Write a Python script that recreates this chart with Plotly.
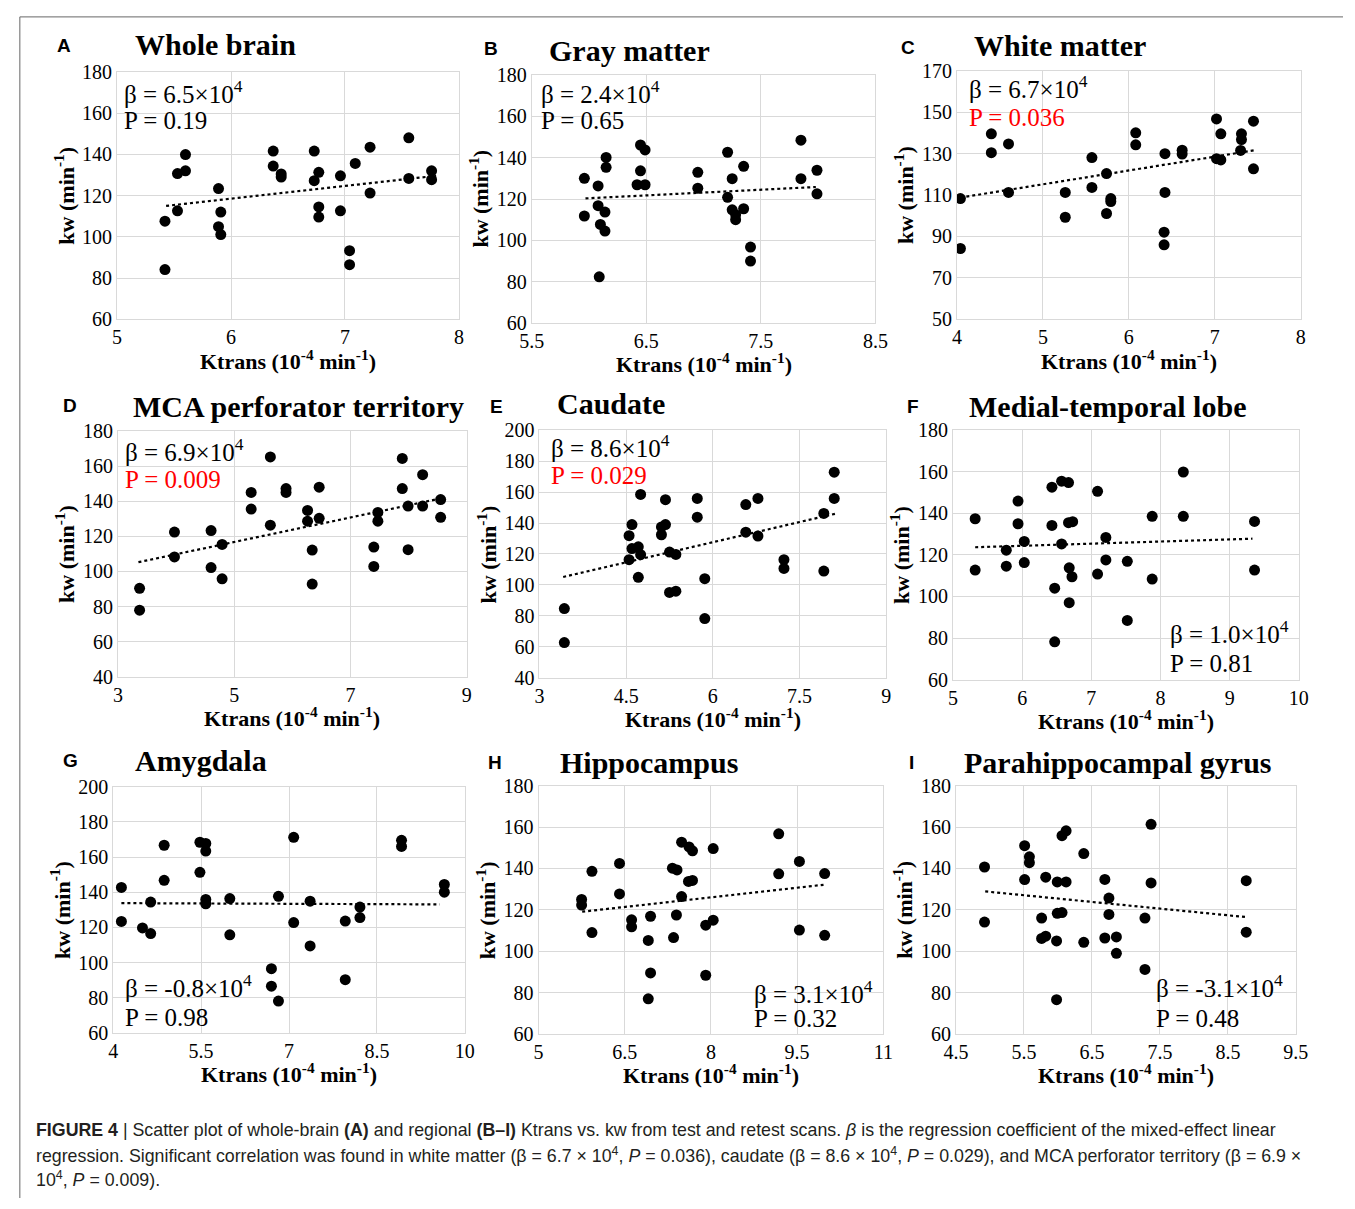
import plotly.graph_objects as go

W, H = 1355, 1209

# ---------------- data ----------------
# A Whole brain
a_ktrans = [5.42, 5.42, 5.53, 5.53, 5.60, 5.60, 5.89, 5.91, 5.89, 5.91, 6.37, 6.37, 6.44, 6.44, 6.73,
            6.73, 6.77, 6.77, 6.77, 6.96, 6.96, 7.04, 7.04, 7.09, 7.22, 7.22, 7.56, 7.56, 7.76, 7.76]
a_kw = [107.6, 84.1, 130.7, 112.6, 139.9, 132.0, 123.4, 112.0, 104.9, 101.1, 141.6, 134.3, 130.5, 129.0, 141.6,
        127.2, 131.3, 114.5, 109.6, 129.6, 112.6, 93.3, 86.5, 135.6, 143.5, 121.2, 148.0, 128.3, 132.0, 127.7]
a_trend_x = [5.43, 7.80]
a_trend_y = [115.0, 129.6]

# B Gray matter
b_ktrans = [5.96, 5.96, 6.08, 6.08, 6.10, 6.14, 6.14, 6.09, 6.15, 6.15, 6.45, 6.49, 6.45, 6.42, 6.49, 6.95,
            6.95, 7.21, 7.21, 7.25, 7.25, 7.28, 7.28, 7.35, 7.35, 7.41, 7.41, 7.85, 7.85, 7.99, 7.99]
b_kw = [130.0, 111.8, 126.3, 116.8, 107.7, 113.7, 104.5, 82.4, 140.1, 135.3, 146.1, 143.7, 133.6, 126.9, 126.9,
        132.9, 125.2, 142.6, 120.8, 129.8, 114.8, 112.4, 110.0, 135.8, 115.3, 96.8, 90.0, 148.4, 129.8, 133.9, 122.5]
b_trend_x = [5.97, 7.98]
b_trend_y = [120.3, 125.8]

# C White matter
c_ktrans = [4.04, 4.04, 4.40, 4.40, 4.60, 4.60, 5.26, 5.26, 5.57, 5.57, 5.74, 5.79, 5.79, 5.74, 6.08, 6.08,
            6.42, 6.42, 6.41, 6.41, 6.62, 6.62, 7.02, 7.07, 7.02, 7.07, 7.31, 7.31, 7.30, 7.45, 7.45]
c_kw = [108.3, 84.2, 139.6, 130.5, 134.7, 111.3, 111.3, 99.3, 128.1, 113.7, 120.4, 108.3, 106.9, 101.1, 140.1,
        134.3, 130.0, 111.3, 92.1, 86.0, 131.7, 129.8, 146.8, 139.6, 127.6, 127.0, 139.6, 136.8, 131.6, 145.7, 122.7]
c_trend_x = [4.04, 7.47]
c_trend_y = [108.8, 131.7]

# D MCA perforator territory
d_ktrans = [3.37, 3.37, 3.97, 3.97, 4.60, 4.60, 4.79, 4.79, 5.29, 5.29, 5.62, 5.62, 5.89, 5.89, 6.26, 6.26,
            6.34, 6.34, 6.46, 6.46, 7.40, 7.40, 7.47, 7.47, 7.89, 7.89, 7.99, 7.99, 8.24, 8.24, 8.55, 8.55]
d_kw = [90.4, 77.9, 122.5, 108.3, 123.3, 102.2, 115.4, 95.8, 145.1, 135.6, 165.3, 126.4, 147.3, 145.1, 134.8,
        128.7, 112.2, 92.8, 148.1, 130.3, 113.9, 102.9, 133.7, 128.7, 164.5, 147.3, 137.3, 112.4, 155.2, 137.3,
        141.0, 130.9]
d_trend_x = [3.35, 8.56]
d_trend_y = [105.3, 141.7]

# E Caudate
e_ktrans = [3.43, 3.43, 4.55, 4.55, 4.60, 4.60, 4.71, 4.75, 4.71, 4.75, 5.11, 5.11, 5.18, 5.18, 5.25, 5.36,
            5.25, 5.36, 5.73, 5.73, 5.86, 5.86, 6.57, 6.57, 6.78, 6.78, 7.23, 7.23, 7.92, 7.92, 8.10, 8.10]
e_kw = [84.7, 62.7, 131.8, 116.3, 139.0, 123.5, 124.6, 119.5, 104.9, 158.5, 137.5, 132.4, 139.0, 155.1, 121.2,
        119.7, 95.1, 95.9, 155.9, 143.8, 104.0, 78.2, 151.9, 134.1, 155.9, 131.6, 116.3, 110.6, 146.2, 108.9,
        172.9, 155.9]
e_trend_x = [3.41, 8.12]
e_trend_y = [105.1, 146.0]

# F Medial-temporal lobe
f_ktrans = [5.32, 5.32, 5.77, 5.77, 5.94, 5.94, 6.03, 6.03, 6.43, 6.43, 6.47, 6.47, 6.57, 6.67, 6.57, 6.67,
            6.73, 6.68, 6.72, 6.68, 7.09, 7.09, 7.21, 7.21, 7.52, 7.52, 7.88, 7.88, 8.33, 8.33, 9.36, 9.36]
f_kw = [137.4, 112.7, 122.3, 114.6, 145.9, 135.0, 126.5, 116.3, 152.6, 134.2, 104.0, 78.2, 155.5, 154.8, 125.3,
        135.5, 136.0, 113.8, 109.5, 97.0, 150.6, 110.8, 128.4, 117.6, 116.9, 88.5, 138.6, 108.4, 159.9, 138.6,
        136.1, 112.7]
f_trend_x = [5.32, 9.33]
f_trend_y = [123.7, 127.8]

# G Amygdala
g_ktrans = [4.14, 4.14, 4.50, 4.64, 4.64, 4.87, 4.87, 5.48, 5.58, 5.58, 5.48, 5.58, 5.58, 5.99, 5.99, 6.70,
            6.70, 6.82, 6.82, 7.08, 7.08, 7.36, 7.36, 7.96, 7.96, 8.21, 8.21, 8.92, 8.92, 9.65, 9.65]
g_kw = [142.7, 123.4, 119.7, 116.5, 134.4, 166.7, 146.8, 168.4, 167.7, 163.4, 151.3, 135.9, 133.4, 136.4, 115.8,
        96.6, 86.6, 137.7, 78.2, 171.2, 122.8, 134.9, 109.5, 123.6, 90.3, 131.6, 125.6, 169.5, 166.0, 144.4, 140.0]
g_trend_x = [4.14, 9.57]
g_trend_y = [133.8, 133.1]

# H Hippocampus
h_ktrans = [5.75, 5.75, 5.93, 5.93, 6.41, 6.41, 6.62, 6.62, 6.91, 6.91, 6.95, 6.95, 7.33, 7.41, 7.40, 7.35,
            7.49, 7.62, 7.68, 7.49, 7.61, 7.68, 8.04, 8.04, 7.91, 7.91, 9.18, 9.18, 9.54, 9.54, 9.98, 9.98]
h_kw = [125.0, 122.3, 138.6, 109.0, 142.4, 127.7, 115.2, 111.8, 105.2, 77.0, 116.9, 89.5, 140.1, 139.3, 117.5,
        106.6, 152.7, 150.4, 148.5, 126.4, 133.7, 134.2, 149.6, 115.0, 112.6, 88.4, 156.7, 137.4, 143.4, 110.2,
        137.5, 107.7]
h_trend_x = [5.76, 9.96]
h_trend_y = [119.1, 132.1]

# I Parahippocampal gyrus
i_ktrans = [4.92, 4.92, 5.51, 5.51, 5.58, 5.58, 5.82, 5.76, 5.76, 5.82, 5.99, 6.12, 6.06, 6.12, 5.99, 6.06,
            5.98, 5.98, 6.38, 6.38, 6.69, 6.69, 6.75, 6.75, 6.86, 6.86, 7.28, 7.28, 7.37, 7.37, 8.77, 8.77]
i_kw = [140.7, 114.1, 151.0, 134.6, 145.6, 142.8, 135.8, 116.0, 106.2, 107.3, 133.5, 133.5, 155.8, 158.2, 118.3,
        118.7, 105.0, 76.6, 147.2, 104.3, 134.7, 106.4, 125.7, 117.8, 106.9, 99.0, 116.0, 91.2, 161.3, 133.0,
        134.1, 109.2]
i_trend_x = [4.93, 8.77]
i_trend_y = [128.9, 116.5]

panel_letters = ["A", "B", "C", "D", "E", "F", "G", "H", "I"]
panel_titles = ["Whole brain", "Gray matter", "White matter", "MCA perforator territory", "Caudate",
                "Medial-temporal lobe", "Amygdala", "Hippocampus", "Parahippocampal gyrus"]
beta_labels = ["6.5", "2.4", "6.7", "6.9", "8.6", "1.0", "-0.8", "3.1", "-3.1"]
p_labels = ["0.19", "0.65", "0.036", "0.009", "0.029", "0.81", "0.98", "0.32", "0.48"]
p_significant = [False, False, True, True, True, False, False, False, False]

x_ticks = [[5, 6, 7, 8], [5.5, 6.5, 7.5, 8.5], [4, 5, 6, 7, 8], [3, 5, 7, 9], [3, 4.5, 6, 7.5, 9],
           [5, 6, 7, 8, 9, 10], [4, 5.5, 7, 8.5, 10], [5, 6.5, 8, 9.5, 11], [4.5, 5.5, 6.5, 7.5, 8.5, 9.5]]
y_ticks = [[60, 80, 100, 120, 140, 160, 180], [60, 80, 100, 120, 140, 160, 180],
           [50, 70, 90, 110, 130, 150, 170], [40, 60, 80, 100, 120, 140, 160, 180],
           [40, 60, 80, 100, 120, 140, 160, 180, 200], [60, 80, 100, 120, 140, 160, 180],
           [60, 80, 100, 120, 140, 160, 180, 200], [60, 80, 100, 120, 140, 160, 180],
           [60, 80, 100, 120, 140, 160, 180]]

series_x = [a_ktrans, b_ktrans, c_ktrans, d_ktrans, e_ktrans, f_ktrans, g_ktrans, h_ktrans, i_ktrans]
series_y = [a_kw, b_kw, c_kw, d_kw, e_kw, f_kw, g_kw, h_kw, i_kw]
trend_x = [a_trend_x, b_trend_x, c_trend_x, d_trend_x, e_trend_x, f_trend_x, g_trend_x, h_trend_x, i_trend_x]
trend_y = [a_trend_y, b_trend_y, c_trend_y, d_trend_y, e_trend_y, f_trend_y, g_trend_y, h_trend_y, i_trend_y]

# ---------------- layout (pixel boxes: left, top, right, bottom) ----------------
boxes = [(107, 62, 455, 314), (529, 65, 879, 318), (962, 61, 1312, 314),
         (108, 428, 463, 678), (537, 427, 890, 679), (958, 427, 1310, 681),
         (103, 790, 461, 1041), (536, 789, 887, 1042), (961, 789, 1307, 1042)]
letter_pos = [(53, 35), (488, 38), (912, 37), (59, 402), (493, 403), (917, 403), (60, 763), (492, 765), (916, 765)]
title_pos = [(123, 34), (545, 40), (977, 35), (121, 403), (553, 400), (972, 403), (123, 763), (556, 765), (967, 765)]
stat_pos = [(112, 82, 112), (537, 82, 112), (972, 77, 108), (113, 447, 477), (547, 443, 473),
            (1177, 633, 665), (113, 993, 1025), (753, 999, 1026), (1163, 993, 1026)]

SERIF = "Liberation Serif, Times New Roman, serif"
SANS = "Liberation Sans, Arial, sans-serif"
GRID = "#d9d9d9"


def px(x):
    return x / W


def py(y):
    return 1 - y / H


def fmt(v):
    return ("%g" % v)


fig = go.Figure()
annotations = []
for k in range(9):
    n = k + 1
    suffix = "" if n == 1 else str(n)
    xa, ya = "x" + suffix, "y" + suffix
    fig.add_trace(go.Scatter(x=series_x[k], y=series_y[k], mode="markers",
                             marker=dict(color="black", size=11, line=dict(width=0)),
                             xaxis=xa, yaxis=ya, showlegend=False, hoverinfo="x+y"))
    fig.add_trace(go.Scatter(x=trend_x[k], y=trend_y[k], mode="lines",
                             line=dict(color="black", dash="dot", width=2.2),
                             xaxis=xa, yaxis=ya, showlegend=False, hoverinfo="skip"))
    l, t, r, b = boxes[k]
    xt, yt = x_ticks[k], y_ticks[k]
    axis_common = dict(showgrid=True, gridcolor=GRID, gridwidth=1, zeroline=False,
                       showline=True, linecolor=GRID, linewidth=1, mirror=True, ticks="",
                       tickfont=dict(family=SERIF, size=20, color="black"))
    fig.layout["xaxis" + suffix] = dict(domain=[px(l), px(r)], anchor=ya, range=[xt[0], xt[-1]],
                                        tickmode="array", tickvals=xt, ticktext=[fmt(v) for v in xt],
                                        **axis_common)
    fig.layout["yaxis" + suffix] = dict(domain=[py(b), py(t)], anchor=xa, range=[yt[0], yt[-1]],
                                        tickmode="array", tickvals=yt, ticktext=[fmt(v) for v in yt],
                                        **axis_common)
    # panel letter
    lx, ly = letter_pos[k]
    annotations.append(dict(x=px(lx), y=py(ly), xref="paper", yref="paper", text="<b>%s</b>" % panel_letters[k],
                            showarrow=False, xanchor="center", yanchor="middle",
                            font=dict(family=SANS, size=19, color="black")))
    # title
    tx, ty = title_pos[k]
    annotations.append(dict(x=px(tx), y=py(ty), xref="paper", yref="paper", text="<b>%s</b>" % panel_titles[k],
                            showarrow=False, xanchor="left", yanchor="middle",
                            font=dict(family=SERIF, size=30, color="black")))
    # stats
    sx, sy1, sy2 = stat_pos[k]
    annotations.append(dict(x=px(sx), y=py(sy1), xref="paper", yref="paper",
                            text="β = %s×10<sup>4</sup>" % beta_labels[k],
                            showarrow=False, xanchor="left", yanchor="middle",
                            font=dict(family=SERIF, size=25, color="black")))
    annotations.append(dict(x=px(sx), y=py(sy2), xref="paper", yref="paper",
                            text="P = %s" % p_labels[k],
                            showarrow=False, xanchor="left", yanchor="middle",
                            font=dict(family=SERIF, size=25, color="#ff0000" if p_significant[k] else "black")))
    # axis titles
    annotations.append(dict(x=px((l + r) / 2), y=py(b + 41), xref="paper", yref="paper",
                            text="<b>Ktrans (10<sup>-4</sup> min<sup>-1</sup>)</b>",
                            showarrow=False, xanchor="center", yanchor="middle",
                            font=dict(family=SERIF, size=22, color="black")))
    annotations.append(dict(x=px(l - 54), y=py((t + b) / 2), xref="paper", yref="paper",
                            text="<b>kw (min<sup>-1</sup>)</b>", textangle=-90,
                            showarrow=False, xanchor="center", yanchor="middle",
                            font=dict(family=SERIF, size=22, color="black")))

caption_lines = [
    "<b>FIGURE 4</b> | Scatter plot of whole-brain <b>(A)</b> and regional <b>(B–I)</b> Ktrans vs. kw from test "
    "and retest scans. <i>β</i> is the regression coefficient of the mixed-effect linear",
    "regression. Significant correlation was found in white matter (β = 6.7 × 10<sup>4</sup>, <i>P</i> = 0.036), "
    "caudate (β = 8.6 × 10<sup>4</sup>, <i>P</i> = 0.029), and MCA perforator territory (β = 6.9 ×",
    "10<sup>4</sup>, <i>P</i> = 0.009).",
]
for j, line in enumerate(caption_lines):
    annotations.append(dict(x=px(22), y=py(1140 + 25 * j), xref="paper", yref="paper", text=line,
                            showarrow=False, xanchor="left", yanchor="middle",
                            font=dict(family=SANS, size=17.8, color="#231f20")))

fig.update_layout(
    width=W, height=H, autosize=False, margin=dict(l=0, r=0, t=0, b=0),
    paper_bgcolor="white", plot_bgcolor="white",
    annotations=annotations, showlegend=False,
    shapes=[dict(type="line", xref="paper", yref="paper", x0=px(8), x1=px(8), y0=0, y1=py(6),
                 line=dict(color="#666666", width=1)),
            dict(type="line", xref="paper", yref="paper", x0=px(8), x1=1, y0=py(6), y1=py(6),
                 line=dict(color="#666666", width=1))],
)

fig.write_html("out.html", config={"displayModeBar": False},
               post_script="document.body.style.margin='0px';document.body.style.overflow='hidden';")
